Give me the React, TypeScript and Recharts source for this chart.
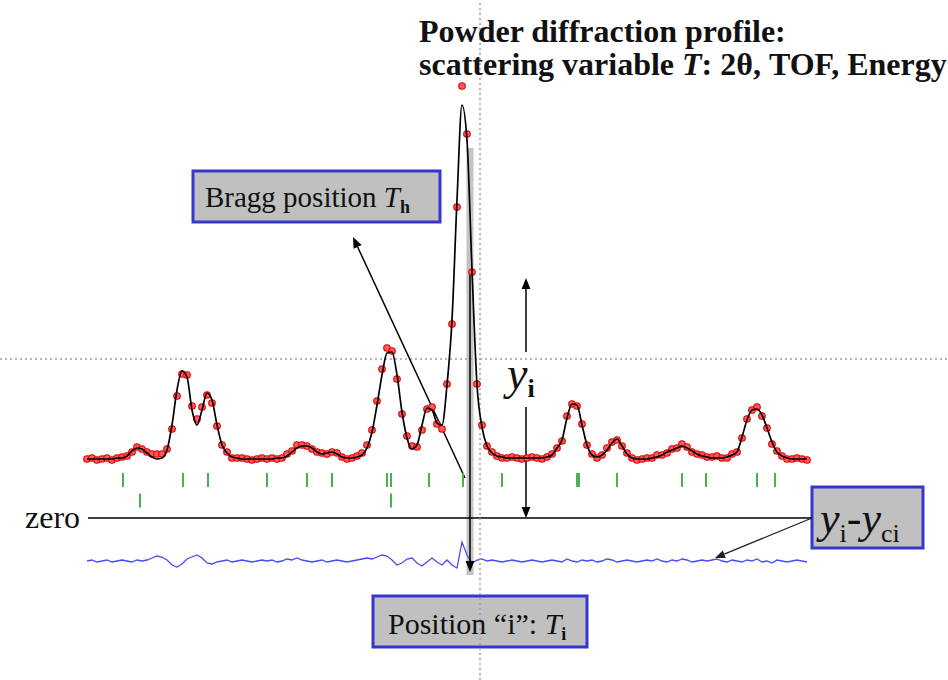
import React from 'react';
import {
  ComposedChart,
  XAxis,
  YAxis,
  Line,
  Scatter,
  ReferenceLine,
  ReferenceArea,
  ReferenceDot,
} from 'recharts';

// scan grid (scattering variable T, arbitrary units)
const T_START = 8.7;
const T_STEP = 0.5;

// calculated profile y_ci, one value per step
const calcCounts = [
  590, 590, 590, 590, 590, 590, 600, 600, 620, 670,
  700, 690, 650, 610, 590, 600, 680, 930, 1280, 1470,
  1410, 1080, 930, 1080, 1250, 1180, 930, 730, 650, 610,
  600, 590, 590, 590, 590, 590, 590, 590, 600, 600,
  620, 660, 700, 720, 720, 700, 660, 640, 650, 660,
  640, 610, 600, 600, 610, 630, 700, 860, 1130, 1430,
  1650, 1660, 1430, 1060, 800, 690, 730, 930, 1100, 1080,
  950, 930, 1330, 1980, 3180, 4130, 3780, 2480, 1330, 910,
  720, 650, 620, 610, 600, 600, 600, 600, 600, 600,
  600, 600, 610, 630, 700, 780, 1000, 1140, 1130, 930,
  730, 630, 610, 630, 680, 750, 790, 720, 640, 600,
  590, 590, 590, 600, 610, 630, 660, 680, 700, 720,
  700, 670, 640, 620, 610, 600, 600, 600, 610, 630,
  660, 810, 980, 1080, 1090, 1030, 900, 760, 660, 620,
  600, 590, 590, 590, 590,
];

// difference y_i - y_ci, one value per step
const diffCounts = [
  0, 10, -10, 0, 10, -10, 0, 10, 0, -10,
  10, 0, 10, 30, 50, 40, 10, -40, -60, -30,
  20, 40, 60, 30, -20, -30, -10, 0, 10, -10,
  0, 10, 0, -10, 0, 10, 0, 10, -10, 0,
  20, 10, 30, 10, 0, -10, 0, 10, -10, 0,
  10, 0, -10, 0, 10, 20, 30, 20, 40, 60,
  50, 10, -40, -20, 20, 30, -20, -50, -10, 30,
  -10, -40, 10, -40, -70, 190, 60, -20, 10, 20,
  0, 10, 0, -10, 0, 10, 0, -10, 0, 10,
  0, -10, 0, 10, 0, -10, 20, 0, -10, 10,
  0, 10, -10, 0, 20, 10, -10, 0, 10, 0,
  -10, 0, 10, 0, 20, 0, -10, 10, 0, 20,
  10, -10, 0, 10, 0, 10, 20, 0, -10, 10,
  0, -10, 10, 0, 20, -10, 0, -20, 10, 0,
  -10, 0, 10, 0, -10,
];

// Bragg positions, two phases
const hklPhase1 = [12.3, 18.3, 20.8, 26.7, 30.7, 33.2, 38.7, 39.1, 42.9, 46.3, 50.2, 57.7, 57.9, 61.7, 68.2, 70.6, 75.7, 77.5];
const hklPhase2 = [14.0, 39.1];

const DIFF_OFFSET = -430;
const TICK_ROW1 = 380;
const TICK_ROW2 = 175;

const profile = calcCounts.map((c, i) => ({
  T: +(T_START + i * T_STEP).toFixed(2),
  calc: c,
  obs: c + diffCounts[i],
  diff: diffCounts[i] + DIFF_OFFSET,
}));

const ticks1 = hklPhase1.map((t) => ({ T: t, level: TICK_ROW1 }));
const ticks2 = hklPhase2.map((t) => ({ T: t, level: TICK_ROW2 }));

const SERIF = '"Liberation Serif", "Times New Roman", serif';

const ObsDot = (p: any) => (
  <circle cx={p.cx} cy={p.cy} r={3.3} fill="#ff5a5a" stroke="#e30000" strokeWidth={1.1} />
);

const TickMark = (p: any) => (
  <line x1={p.cx} x2={p.cx} y1={p.cy - 7} y2={p.cy + 7} stroke="#4caf50" strokeWidth={2} />
);

const arrow = (color = '#000', w = 1.5, head = 11) => (p: any) => {
  const { x1, y1, x2, y2 } = p;
  const ang = Math.atan2(y2 - y1, x2 - x1);
  const hx = x2 - head * Math.cos(ang);
  const hy = y2 - head * Math.sin(ang);
  const ox = -Math.sin(ang) * head * 0.4;
  const oy = Math.cos(ang) * head * 0.4;
  return (
    <g>
      <line x1={x1} y1={y1} x2={hx} y2={hy} stroke={color} strokeWidth={w} />
      <polygon points={`${x2},${y2} ${hx + ox},${hy + oy} ${hx - ox},${hy - oy}`} fill={color} />
    </g>
  );
};

const box = (content: (x: number, y: number) => React.ReactNode) => (p: any) => (
  <g>
    <rect x={p.x} y={p.y} width={p.width} height={p.height} fill="#c0c0c0" stroke="#3535d0" strokeWidth={3} />
    {content(p.x, p.y)}
  </g>
);

export default function App() {
  return (
    <div style={{ position: 'absolute', left: 0, top: 0, width: 948, height: 680, background: '#fff' }}>
      <ComposedChart width={948} height={680} data={profile} margin={{ top: 0, right: 0, bottom: 0, left: 0 }}>
        <XAxis type="number" dataKey="T" domain={[0, 94.8]} hide allowDataOverflow />
        <YAxis type="number" domain={[-1620, 5180]} hide allowDataOverflow />

        {/* gray marker bar at position i */}
        <ReferenceArea x1={46.65} x2={47.35} y1={-570} y2={3700} fill="#c4c4c4" fillOpacity={1} stroke="none" zIndex={50} />

        <Scatter dataKey="obs" shape={ObsDot} isAnimationActive={false} />
        <Line dataKey="calc" type="monotone" stroke="#000" strokeWidth={1.7} dot={false} activeDot={false} isAnimationActive={false} zIndex={700} />
        <Line dataKey="diff" type="linear" stroke="#4848ff" strokeWidth={1.3} dot={false} activeDot={false} isAnimationActive={false} />
        <Scatter data={ticks1} dataKey="level" shape={TickMark} isAnimationActive={false} />
        <Scatter data={ticks2} dataKey="level" shape={TickMark} isAnimationActive={false} />

        {/* zero line */}
        <ReferenceLine segment={[{ x: 8.8, y: 0 }, { x: 81.2, y: 0 }]} stroke="#000" strokeWidth={1.5} />

        {/* boxes */}
        <ReferenceArea
          x1={19.3} x2={44.0} y1={2960} y2={3470}
          shape={box((x, y) => (
            <text x={x + 12} y={y + 36} fontFamily={SERIF} fontSize={29} fill="#111">
              Bragg position <tspan fontStyle="italic">T</tspan>
              <tspan fontWeight="bold" fontSize={18} dy={6}>h</tspan>
            </text>
          ))}
        />
        <ReferenceArea
          x1={37.3} x2={58.7} y1={-1290} y2={-780}
          shape={box((x, y) => (
            <text x={x + 15} y={y + 38} fontFamily={SERIF} fontSize={30} fill="#111">
              Position “i”: <tspan fontStyle="italic">T</tspan>
              <tspan fontWeight="bold" fontSize={18} dy={6}>i</tspan>
            </text>
          ))}
        />
        <ReferenceArea
          x1={81.2} x2={92.3} y1={-300} y2={310}
          shape={box((x, y) => (
            <text x={x + 8} y={y + 46} fontFamily={SERIF} fontSize={44} fill="#111">
              <tspan fontStyle="italic">y</tspan>
              <tspan fontSize={26} dy={9}>i</tspan>
              <tspan dy={-9}>-</tspan>
              <tspan fontStyle="italic">y</tspan>
              <tspan fontSize={26} dy={9}>ci</tspan>
            </text>
          ))}
        />

        {/* crosshair */}
        <ReferenceLine x={48.0} stroke="#a0a0a0" strokeDasharray="2 3" strokeWidth={1.5} />
        <ReferenceLine y={1590} stroke="#a0a0a0" strokeDasharray="2 3" strokeWidth={1.5} />

        {/* arrows */}
        <ReferenceLine segment={[{ x: 47.0, y: 2450 }, { x: 47.0, y: -540 }]} shape={arrow()} />
        <ReferenceLine segment={[{ x: 52.6, y: 1660 }, { x: 52.6, y: 2400 }]} shape={arrow()} />
        <ReferenceLine segment={[{ x: 52.6, y: 1110 }, { x: 52.6, y: 0 }]} shape={arrow()} />
        <ReferenceLine segment={[{ x: 46.5, y: 400 }, { x: 35.3, y: 2810 }]} shape={arrow()} />
        <ReferenceLine segment={[{ x: 81.2, y: 0 }, { x: 71.5, y: -400 }]} shape={arrow('#222', 1.3, 10)} />

        {/* texts */}
        <ReferenceDot
          x={41.9} y={4760} r={0}
          shape={(p: any) => (
            <text x={p.cx} y={p.cy} fontFamily={SERIF} fontWeight="bold" fontSize={32} fill="#111">
              <tspan x={p.cx}>Powder diffraction profile:</tspan>
              <tspan x={p.cx} dy={33}>
                scattering variable <tspan fontStyle="italic">T</tspan>: 2θ, TOF, Energy
              </tspan>
            </text>
          )}
        />
        <ReferenceDot
          x={2.5} y={-100} r={0}
          shape={(p: any) => (
            <text x={p.cx} y={p.cy} fontFamily={SERIF} fontSize={32} fill="#111">zero</text>
          )}
        />
        <ReferenceDot
          x={50.7} y={1290} r={0}
          shape={(p: any) => (
            <text x={p.cx} y={p.cy} fontFamily={SERIF} fontSize={46} fill="#111">
              <tspan fontStyle="italic">y</tspan>
              <tspan fontWeight="bold" fontSize={26} dy={8}>i</tspan>
            </text>
          )}
        />
      </ComposedChart>
    </div>
  );
}
